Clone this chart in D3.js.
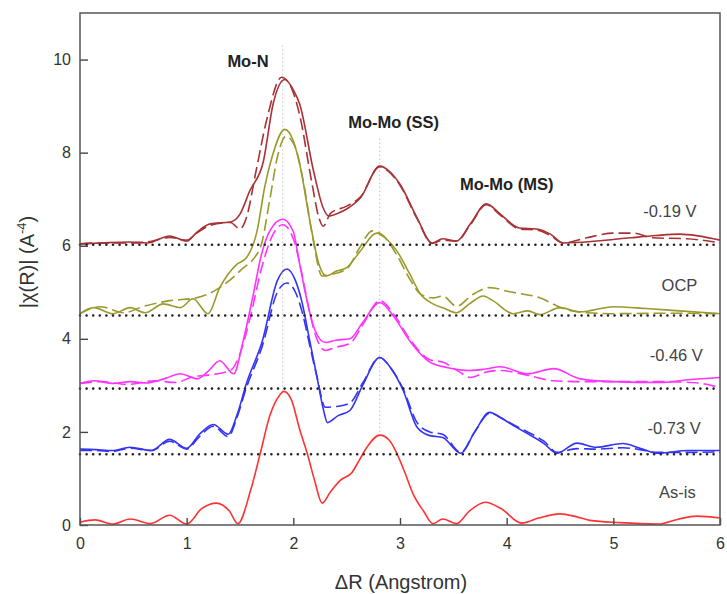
<!DOCTYPE html>
<html>
<head>
<meta charset="utf-8">
<script src="https://cdn.jsdelivr.net/npm/d3@7"></script>
<style>
  body { margin: 0; background: #fff; }
  text { font-family: "Liberation Sans", Arial, sans-serif; }
</style>
</head>
<body>
<script>
// series values: [R, |chi(R)|]
const asIs = [[0,0.06],[0.14,0.11],[0.31,0.02],[0.47,0.13],[0.66,0.03],[0.84,0.21],[1.0,0.02],[1.14,0.35],[1.28,0.47],[1.4,0.3],[1.48,0.03],[1.6,0.75],[1.69,1.54],[1.78,2.35],[1.875,2.8],[1.91,2.87],[1.98,2.7],[2.06,2.05],[2.13,1.54],[2.2,0.95],[2.27,0.47],[2.35,0.72],[2.44,0.96],[2.55,1.13],[2.62,1.4],[2.69,1.67],[2.81,1.93],[2.9,1.82],[2.97,1.54],[3.05,1.1],[3.12,0.68],[3.22,0.3],[3.31,0.03],[3.4,0.13],[3.53,0.03],[3.65,0.3],[3.8,0.49],[3.95,0.35],[4.14,0.04],[4.3,0.15],[4.5,0.24],[4.65,0.18],[4.78,0.1],[5.06,0.05],[5.42,0.02],[5.6,0.12],[5.78,0.19],[6,0.15]];

const v073 = [[0,1.63],[0.15,1.62],[0.3,1.6],[0.47,1.67],[0.67,1.6],[0.84,1.84],[1.0,1.65],[1.12,1.95],[1.25,2.16],[1.39,1.95],[1.47,2.35],[1.56,3.04],[1.71,3.96],[1.85,5.25],[1.94,5.5],[2.02,5.25],[2.08,4.8],[2.15,4.0],[2.22,3.2],[2.28,2.5],[2.32,2.2],[2.42,2.35],[2.53,2.46],[2.65,3.0],[2.81,3.6],[2.92,3.35],[3.03,2.89],[3.16,2.1],[3.28,1.92],[3.4,1.88],[3.57,1.54],[3.7,2.0],[3.84,2.42],[3.95,2.3],[4.06,2.14],[4.22,1.93],[4.35,1.75],[4.47,1.54],[4.66,1.76],[4.84,1.67],[5.09,1.75],[5.25,1.65],[5.41,1.54],[5.7,1.6],[6,1.6]];
const v073Fit = [[0,1.6],[0.15,1.6],[0.3,1.58],[0.47,1.65],[0.67,1.6],[0.84,1.8],[1.0,1.63],[1.12,1.9],[1.25,2.12],[1.39,1.9],[1.47,2.3],[1.56,2.95],[1.71,3.85],[1.85,5.0],[1.94,5.2],[2.02,5.0],[2.08,4.6],[2.15,3.9],[2.22,3.2],[2.3,2.53],[2.42,2.55],[2.53,2.62],[2.65,3.05],[2.81,3.6],[2.92,3.35],[3.03,2.92],[3.16,2.2],[3.28,2.0],[3.4,1.95],[3.57,1.56],[3.7,2.0],[3.84,2.4],[3.95,2.3],[4.06,2.16],[4.22,1.97],[4.35,1.8],[4.47,1.56],[4.66,1.64],[4.84,1.63],[5.09,1.66],[5.25,1.62],[5.41,1.56],[5.7,1.56],[6,1.57]];

const v046 = [[0,3.04],[0.13,3.1],[0.31,3.04],[0.47,3.08],[0.62,3.05],[0.8,3.15],[0.94,3.25],[1.1,3.14],[1.2,3.3],[1.31,3.53],[1.44,3.25],[1.53,3.96],[1.62,4.9],[1.7,5.8],[1.78,6.32],[1.9,6.57],[2.0,6.3],[2.06,5.6],[2.13,4.8],[2.2,4.2],[2.3,3.92],[2.4,3.97],[2.53,4.0],[2.65,4.35],[2.81,4.78],[2.95,4.45],[3.09,3.96],[3.28,3.5],[3.45,3.38],[3.66,3.32],[3.8,3.35],[3.94,3.4],[4.19,3.25],[4.44,3.36],[4.69,3.14],[5.0,3.08],[5.44,3.06],[5.7,3.12],[6,3.17]];
const v046Fit = [[0,3.04],[0.2,3.08],[0.45,3.02],[0.7,3.1],[0.9,3.06],[1.05,3.18],[1.2,3.22],[1.41,3.32],[1.5,3.68],[1.6,4.5],[1.7,5.5],[1.8,6.2],[1.9,6.45],[2.0,6.15],[2.08,5.4],[2.15,4.6],[2.22,4.0],[2.3,3.75],[2.4,3.82],[2.53,3.9],[2.65,4.3],[2.81,4.82],[2.95,4.5],[3.09,4.0],[3.28,3.55],[3.4,3.5],[3.55,3.3],[3.66,3.17],[3.8,3.28],[3.94,3.32],[4.19,3.22],[4.44,3.1],[4.7,3.08],[5.0,3.08],[5.5,3.08],[5.8,3.05],[6,2.95]];

const ocp = [[0,4.54],[0.13,4.67],[0.31,4.54],[0.47,4.67],[0.61,4.56],[0.78,4.75],[0.94,4.67],[1.06,4.86],[1.2,4.54],[1.31,5.1],[1.47,5.6],[1.56,5.74],[1.66,6.32],[1.73,7.24],[1.8,7.9],[1.92,8.5],[2.0,8.25],[2.06,7.75],[2.16,6.47],[2.24,5.6],[2.31,5.35],[2.4,5.45],[2.5,5.53],[2.63,5.89],[2.78,6.27],[2.87,6.15],[2.97,5.89],[3.09,5.4],[3.19,4.97],[3.31,4.75],[3.42,4.65],[3.53,4.56],[3.65,4.75],[3.78,4.92],[3.87,4.82],[4.06,4.54],[4.2,4.6],[4.31,4.52],[4.5,4.67],[4.69,4.58],[5.0,4.69],[5.31,4.65],[5.62,4.6],[6,4.54]];
const ocpFit = [[0,4.54],[0.19,4.69],[0.41,4.56],[0.6,4.7],[0.84,4.82],[1.09,4.88],[1.31,5.1],[1.5,5.46],[1.69,5.96],[1.78,7.0],[1.85,7.9],[1.93,8.35],[2.02,8.1],[2.1,7.3],[2.18,6.2],[2.27,5.35],[2.35,5.38],[2.5,5.5],[2.62,5.95],[2.74,6.32],[2.85,6.2],[2.97,5.8],[3.1,5.25],[3.2,4.95],[3.31,4.88],[3.4,4.92],[3.53,4.7],[3.68,4.95],[3.84,5.1],[4.03,5.01],[4.31,4.88],[4.53,4.65],[4.75,4.56],[5.0,4.54],[5.5,4.55],[6,4.54]];

const v019 = [[0,6.04],[0.2,6.06],[0.47,6.08],[0.63,6.06],[0.84,6.21],[1.0,6.1],[1.1,6.3],[1.22,6.47],[1.41,6.51],[1.5,6.68],[1.59,7.17],[1.72,7.82],[1.81,9.04],[1.92,9.57],[2.0,9.35],[2.06,9.04],[2.19,7.6],[2.28,6.81],[2.33,6.64],[2.42,6.7],[2.5,6.79],[2.63,7.03],[2.81,7.71],[2.9,7.6],[3.0,7.32],[3.16,6.6],[3.3,6.06],[3.4,6.15],[3.53,6.1],[3.66,6.47],[3.81,6.9],[3.94,6.68],[4.12,6.38],[4.28,6.36],[4.41,6.25],[4.53,6.06],[4.84,6.1],[5.16,6.17],[5.4,6.22],[5.62,6.25],[6,6.12]];
const v019Fit = [[0,6.04],[0.2,6.06],[0.47,6.06],[0.63,6.08],[0.84,6.18],[1.0,6.12],[1.1,6.28],[1.22,6.44],[1.41,6.5],[1.5,6.36],[1.56,6.6],[1.65,7.6],[1.75,8.7],[1.89,9.62],[1.98,9.4],[2.06,8.8],[2.17,7.4],[2.24,6.6],[2.28,6.42],[2.35,6.7],[2.5,6.85],[2.63,7.05],[2.81,7.7],[2.9,7.58],[3.0,7.3],[3.16,6.58],[3.3,6.05],[3.4,6.12],[3.53,6.1],[3.66,6.45],[3.81,6.88],[3.94,6.66],[4.12,6.36],[4.28,6.34],[4.41,6.22],[4.53,6.06],[4.75,6.17],[5.0,6.27],[5.19,6.27],[5.37,6.17],[5.69,6.15],[6,6.06]];

// offset baselines (dotted), one per shifted spectrum
const baselines = [6.02, 4.5, 2.93, 1.52];
// peak guide lines: R position, top value, bottom value
const guides = [[1.9, 10.3, 2.87], [2.81, 8.3, 1.93]];
const peakLabels = [["Mo-N", 1.575, 9.85], ["Mo-Mo (SS)", 2.94, 8.54], ["Mo-Mo (MS)", 4.0, 7.2]];
const seriesLabels = [["-0.19 V", 5.53, 6.75], ["OCP", 5.62, 5.16], ["-0.46 V", 5.59, 3.64], ["-0.73 V", 5.57, 2.08], ["As-is", 5.6, 0.71]];
const xTicks = [0, 1, 2, 3, 4, 5, 6];
const yTicks = [0, 2, 4, 6, 8, 10];

const W = 727, H = 594;
const margin = {top: 13, right: 7, bottom: 69, left: 80};
const width = W - margin.left - margin.right,
      height = H - margin.top - margin.bottom;

const svg = d3.select("body").append("svg")
  .attr("width", W).attr("height", H);
const g = svg.append("g")
  .attr("transform", "translate(" + margin.left + "," + margin.top + ")");

const x = d3.scaleLinear().domain([0, 6]).range([0, width]);
const y = d3.scaleLinear().domain([0, 11]).range([height, 0]);

// guides behind everything
g.selectAll(".guide").data(guides).enter().append("line")
  .attr("x1", d => x(d[0])).attr("x2", d => x(d[0]))
  .attr("y1", d => y(d[1])).attr("y2", d => y(d[2]))
  .attr("stroke", "#aaa").attr("stroke-width", 1)
  .attr("stroke-dasharray", "1,3");

const line = d3.line()
  .x(d => x(d[0]))
  .y(d => y(d[1]))
  .curve(d3.curveMonotoneX);

const curves = [
  {d: asIs, c: "#ff3333", dash: null},
  {d: v073, c: "#3434f5", dash: null},
  {d: v073Fit, c: "#3434f5", dash: "12,5"},
  {d: v046, c: "#ff33ff", dash: null},
  {d: v046Fit, c: "#ff33ff", dash: "12,5"},
  {d: ocp, c: "#9a9a2c", dash: null},
  {d: ocpFit, c: "#9a9a2c", dash: "12,5"},
  {d: v019, c: "#a83236", dash: null},
  {d: v019Fit, c: "#a83236", dash: "12,5"}
];

g.selectAll(".curve").data(curves).enter().append("path")
  .attr("class", "curve")
  .attr("d", d => line(d.d))
  .attr("fill", "none")
  .attr("stroke", d => d.c)
  .attr("stroke-width", 1.6)
  .attr("stroke-dasharray", d => d.dash);

// dotted baselines
g.selectAll(".base").data(baselines).enter().append("line")
  .attr("x1", 0).attr("x2", width)
  .attr("y1", d => y(d)).attr("y2", d => y(d))
  .attr("stroke", "#222").attr("stroke-width", 2.6)
  .attr("stroke-linecap", "round")
  .attr("stroke-dasharray", "0,6.6");

// axes with inward ticks
const yAxis = g.append("g")
  .call(d3.axisLeft(y).tickValues(yTicks).tickFormat(d3.format("d")).tickSize(-8).tickPadding(9));
const xAxis = g.append("g")
  .attr("transform", "translate(0," + height + ")")
  .call(d3.axisBottom(x).tickValues(xTicks).tickFormat(d3.format("d")).tickSize(-7).tickPadding(13));
[xAxis, yAxis].forEach(a => {
  a.select(".domain").remove();
  a.selectAll(".tick line").attr("stroke", "#444").attr("stroke-width", 1.4);
  a.selectAll(".tick text").attr("fill", "#333")
    .style("font-family", '"Liberation Sans", Arial, sans-serif')
    .style("font-size", "16px");
});

// frame
g.append("rect")
  .attr("width", width).attr("height", height)
  .attr("fill", "none").attr("stroke", "#555").attr("stroke-width", 1.5);

// annotations
g.selectAll(".peak").data(peakLabels).enter().append("text")
  .attr("x", d => x(d[1])).attr("y", d => y(d[2]))
  .attr("text-anchor", "middle")
  .attr("font-weight", "bold").attr("font-size", 16.5)
  .attr("fill", "#222")
  .text(d => d[0]);

g.selectAll(".slabel").data(seriesLabels).enter().append("text")
  .attr("x", d => x(d[1])).attr("y", d => y(d[2]))
  .attr("dy", "0.35em")
  .attr("text-anchor", "middle")
  .attr("font-size", 16.5)
  .attr("fill", "#444")
  .text(d => d[0]);

// axis titles
svg.append("text")
  .attr("x", margin.left + width / 2 + 1).attr("y", 589)
  .attr("text-anchor", "middle")
  .attr("font-size", 20).attr("fill", "#333")
  .text("\u0394R (Angstrom)");

const yt = svg.append("text")
  .attr("transform", "translate(34,262) rotate(-90)")
  .attr("text-anchor", "middle")
  .attr("font-size", 20).attr("fill", "#333");
yt.append("tspan").text("|\u03c7(R)| (A");
yt.append("tspan").attr("font-size", 13).attr("dy", -8).text("-4");
yt.append("tspan").attr("dy", 8).text(")");
</script>
</body>
</html>
